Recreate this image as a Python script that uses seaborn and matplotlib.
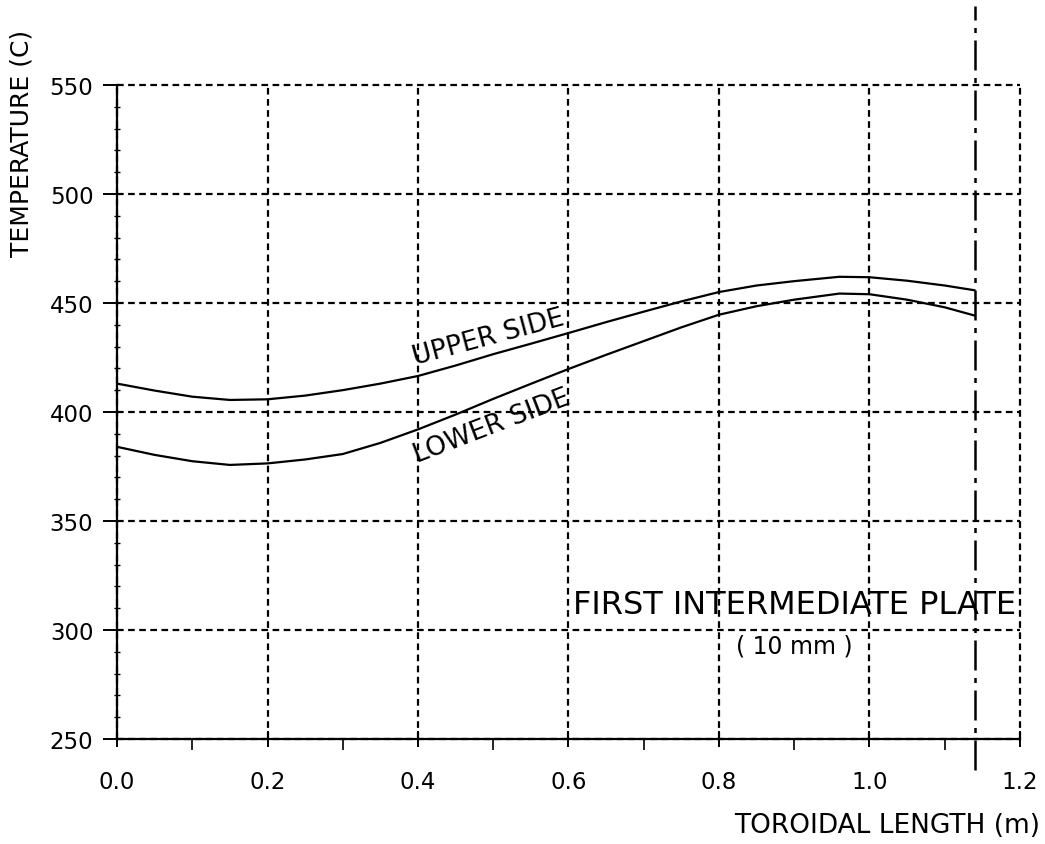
import numpy as np
import pandas as pd
import matplotlib
matplotlib.use("Agg")
import matplotlib.pyplot as plt
from matplotlib.ticker import MultipleLocator
import seaborn as sns

# valores
toroidal_x = [0.0, 0.05, 0.1, 0.15, 0.2, 0.25, 0.3, 0.35, 0.4, 0.45, 0.5, 0.55, 0.6, 0.65,
              0.7, 0.75, 0.8, 0.85, 0.9, 0.96, 1.0, 1.05, 1.1, 1.14]
upper_side = [413.0, 409.8, 407.0, 405.5, 405.8, 407.5, 410.0, 413.0, 416.5, 421.3, 426.5, 431.3,
              436.2, 441.2, 446.0, 450.7, 455.0, 458.0, 460.0, 462.0, 461.8, 460.2, 458.0, 455.8]
lower_side = [384.0, 380.3, 377.4, 375.7, 376.4, 378.2, 380.7, 385.8, 392.0, 398.8, 406.0, 412.9,
              419.7, 426.2, 432.5, 438.8, 444.6, 448.5, 451.5, 454.3, 454.0, 451.5, 448.0, 444.2]
plate_edge = 1.14
x_ticks = [0.0, 0.2, 0.4, 0.6, 0.8, 1.0, 1.2]
y_ticks = [250, 300, 350, 400, 450, 500, 550]

df = pd.DataFrame({
    "x": toroidal_x * 2,
    "T": upper_side + lower_side,
    "side": ["UPPER SIDE"] * len(toroidal_x) + ["LOWER SIDE"] * len(toroidal_x),
})

sns.set_style("white")
plt.rcParams["font.family"] = ["DejaVu Sans"]

fig = plt.figure(figsize=(10.45, 8.45), dpi=100)
ax = fig.add_axes([0.112, 0.1243, 0.864, 0.774])

sns.lineplot(data=df, x="x", y="T", hue="side", palette=["black", "black"],
             linewidth=1.6, legend=False, ax=ax, sort=True)

ax.set_xlim(0, 1.2)
ax.set_ylim(250, 550)
ax.set_xticks(x_ticks)
ax.set_yticks(y_ticks)
ax.set_xticklabels([f"{v:.1f}" for v in x_ticks])
ax.set_yticklabels([str(v) for v in y_ticks])
ax.xaxis.set_minor_locator(MultipleLocator(0.1))
ax.yaxis.set_minor_locator(MultipleLocator(10))

ax.grid(True, which="major", color="black", linestyle=(0, (3, 2)), linewidth=1.6)
ax.set_axisbelow(False)
# las lineas de 550 y 1.2 hacen de marco, sin recortar
for gl in ax.get_xgridlines() + ax.get_ygridlines():
    gl.set_clip_on(False)

for s in ["top", "right"]:
    ax.spines[s].set_visible(False)
for s in ["left", "bottom"]:
    ax.spines[s].set_color("black")
    ax.spines[s].set_linewidth(1.6)

ax.tick_params(axis="x", which="major", direction="inout", length=12, width=1.4,
               labelsize=16.5, pad=16, colors="black")
ax.tick_params(axis="x", which="minor", direction="out", length=8, width=1.2, colors="black")
ax.tick_params(axis="y", which="major", direction="out", length=10, width=1.4,
               labelsize=16.5, pad=7, colors="black")
ax.tick_params(axis="y", which="minor", direction="inout", length=5, width=1.0, colors="black")
ax.xaxis.set_ticks_position("bottom")
ax.yaxis.set_ticks_position("left")

# borde de la placa
ax.axvline(plate_edge, ymin=-0.047, ymax=1.12, color="black", linewidth=1.8,
           linestyle=(0, (12, 3, 2, 3)), clip_on=False)

ax.set_xlabel("")
ax.set_ylabel("")

ax.text(0.493, 434.5, "UPPER SIDE", rotation=15, ha="center", va="center",
        fontsize=19, color="black", rotation_mode="anchor")
ax.text(0.498, 393.5, "LOWER SIDE", rotation=21, ha="center", va="center",
        fontsize=19, color="black", rotation_mode="anchor")
ax.text(0.90, 311.5, "FIRST INTERMEDIATE PLATE", ha="center", va="center",
        fontsize=23, color="black")
ax.text(0.90, 293, "( 10 mm )", ha="center", va="center",
        fontsize=17, color="black")

fig.text(0.021, 0.83, "TEMPERATURE (C)", rotation=90, ha="center", va="center",
         fontsize=18, color="black")
fig.text(0.995, 0.022, "TOROIDAL LENGTH (m)", ha="right", va="center",
         fontsize=19, color="black")

fig.savefig("out.png", dpi=100, facecolor="white")
